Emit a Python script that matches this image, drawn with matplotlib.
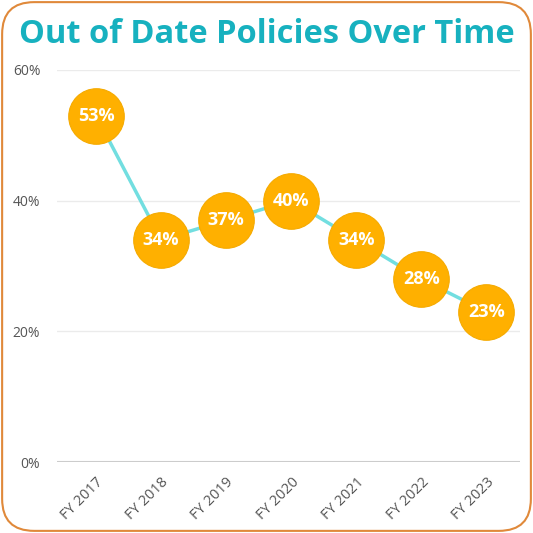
import matplotlib.pyplot as plt
from matplotlib.patches import FancyBboxPatch

years = ["FY 2017", "FY 2018", "FY 2019", "FY 2020", "FY 2021", "FY 2022", "FY 2023"]
values = [53, 34, 37, 40, 34, 28, 23]
yticks = [0, 20, 40, 60]

fig = plt.figure(figsize=(5.33, 5.33), dpi=100)
ax = fig.add_axes([0.107, 0.133, 0.869, 0.736])

x = list(range(len(years)))
ax.plot(x, values, color="#72DEE0", linewidth=2.5, zorder=2)
ax.plot(x, values, linestyle="none", marker="o", markersize=40,
        markerfacecolor="#FFB000", markeredgecolor="#F5AA00", markeredgewidth=0.8, zorder=3)
for xi, v in zip(x, values):
    ax.text(xi, v, f"{v}%", ha="center", va="center", color="white",
            fontsize=13, fontweight="bold", family="Open Sans", zorder=4)

ax.set_xlim(-0.6, 6.52)
ax.set_ylim(0, 60)
ax.set_yticks(yticks)
ax.set_yticklabels([f"{t}%" for t in yticks], family="Open Sans", fontsize=10, color="#555555")
ax.set_xticks(x)
ax.set_xticklabels(years, rotation=45, ha="right", rotation_mode="anchor",
                   family="Open Sans", fontsize=10.5, color="#555555")
ax.tick_params(length=0, pad=8)
ax.tick_params(axis="x", pad=9)
ax.tick_params(axis="y", pad=12)
for t in yticks[1:]:
    ax.axhline(t, color="#EBEBEB", linewidth=1, zorder=0)
ax.axhline(0, color="#CCCCCC", linewidth=1.5, zorder=1)
for s in ax.spines.values():
    s.set_visible(False)

fig.text(0.5, 0.936, "Out of Date Policies Over Time", ha="center", va="center",
         color="#17B1BF", fontsize=23.5, fontweight="bold", family="Open Sans")

border = FancyBboxPatch((0.004, 0.004), 0.992, 0.992, boxstyle="round,pad=0,rounding_size=0.06",
                        transform=fig.transFigure, facecolor="none", edgecolor="#E0893A",
                        linewidth=1.5)
fig.patches.append(border)

fig.savefig("out.png", dpi=100)
